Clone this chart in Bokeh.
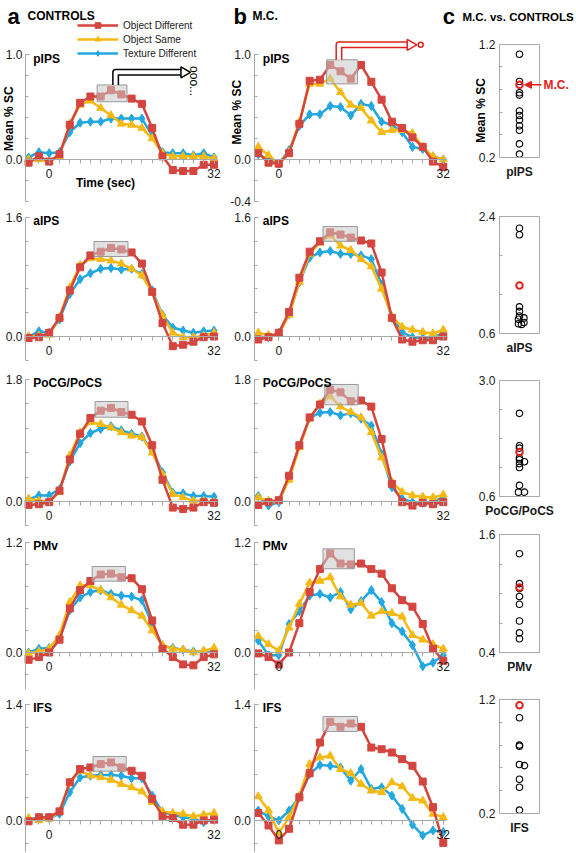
import math
from bokeh.plotting import figure
from bokeh.models import (LinearAxis, FixedTicker, Legend, LegendItem, Arrow,
                          NormalHead, NumeralTickFormatter)
from bokeh.layouts import row, column
from bokeh.core.properties import value
from bokeh.embed import file_html
from bokeh.resources import INLINE

FONT = "Liberation Sans"
RED = "#d4453f"
YEL = "#f5b914"
BLU = "#23a7df"
AXC = "#a8a8a8"
MCRED = "#e0201c"

# ---------------- data ----------------
time_sec = [-4, -2, 0, 2, 4, 6, 8, 10, 12, 14, 16, 18, 20, 22, 24, 26, 28, 30, 32]
regions = ["pIPS", "aIPS", "PoCG/PoCS", "PMv", "IFS"]
y_max = [1.0, 1.6, 1.8, 1.2, 1.4]
series_names = ["Object Different", "Object Same", "Texture Different"]

# a: CONTROLS
ctl_pips_od = [-0.03, 0.03, -0.02, 0.05, 0.33, 0.54, 0.60, 0.60, 0.66, 0.62, 0.58, 0.53, 0.30, 0.03, -0.10, -0.11, -0.11, -0.05, -0.05]
ctl_pips_os = [0.00, 0.00, -0.02, 0.03, 0.34, 0.52, 0.56, 0.49, 0.42, 0.34, 0.33, 0.30, 0.20, 0.06, 0.03, 0.03, 0.03, 0.03, 0.01]
ctl_pips_td = [0.02, 0.07, 0.06, 0.07, 0.26, 0.35, 0.36, 0.36, 0.39, 0.39, 0.39, 0.39, 0.23, 0.07, 0.06, 0.06, 0.04, 0.06, 0.02]

ctl_aips_od = [-0.02, -0.01, 0.05, 0.25, 0.62, 0.93, 1.09, 1.14, 1.19, 1.17, 1.13, 0.98, 0.60, 0.18, -0.13, -0.11, -0.07, -0.01, 0.00]
ctl_aips_os = [0.00, 0.01, 0.02, 0.26, 0.66, 0.96, 1.05, 1.04, 1.02, 0.98, 0.91, 0.82, 0.59, 0.28, 0.05, -0.01, -0.01, 0.01, 0.05]
ctl_aips_td = [0.00, 0.07, 0.05, 0.23, 0.57, 0.77, 0.85, 0.91, 0.92, 0.90, 0.91, 0.84, 0.62, 0.29, 0.12, 0.08, 0.05, 0.07, 0.08]

ctl_pocg_od = [-0.05, -0.04, -0.01, 0.16, 0.62, 1.00, 1.23, 1.34, 1.38, 1.32, 1.28, 1.18, 0.83, 0.32, -0.09, -0.11, -0.09, -0.01, -0.02]
ctl_pocg_os = [0.04, 0.01, 0.00, 0.14, 0.68, 1.02, 1.17, 1.14, 1.09, 1.02, 0.97, 0.95, 0.72, 0.40, 0.11, 0.06, 0.01, 0.01, -0.01]
ctl_pocg_td = [0.03, 0.09, 0.09, 0.18, 0.59, 0.86, 1.01, 1.07, 1.11, 1.05, 1.00, 0.96, 0.75, 0.43, 0.13, 0.12, 0.08, 0.08, 0.07]

ctl_pmv_od = [-0.08, -0.05, 0.00, 0.14, 0.48, 0.68, 0.78, 0.85, 0.86, 0.82, 0.81, 0.69, 0.35, 0.04, -0.05, -0.13, -0.14, -0.05, -0.02]
ctl_pmv_os = [-0.01, 0.01, 0.04, 0.19, 0.55, 0.73, 0.73, 0.68, 0.60, 0.52, 0.46, 0.40, 0.24, 0.08, 0.04, 0.03, 0.00, 0.02, 0.05]
ctl_pmv_td = [0.00, 0.04, 0.05, 0.15, 0.46, 0.60, 0.66, 0.68, 0.64, 0.62, 0.61, 0.57, 0.31, 0.07, 0.05, 0.03, 0.01, 0.01, 0.00]

ctl_ifs_od = [-0.01, 0.04, 0.04, 0.11, 0.46, 0.62, 0.64, 0.68, 0.70, 0.64, 0.60, 0.54, 0.26, 0.05, 0.03, -0.05, -0.05, 0.00, 0.01]
ctl_ifs_os = [0.03, 0.00, 0.02, 0.11, 0.46, 0.60, 0.54, 0.52, 0.49, 0.44, 0.40, 0.35, 0.22, 0.11, 0.09, 0.08, 0.05, 0.07, 0.09]
ctl_ifs_td = [0.02, 0.03, 0.03, 0.08, 0.34, 0.52, 0.54, 0.55, 0.55, 0.54, 0.51, 0.51, 0.30, 0.10, 0.07, 0.04, 0.02, -0.02, 0.01]

# b: M.C.
mc_pips_od = [0.06, -0.03, -0.04, 0.06, 0.34, 0.75, 0.76, 0.90, 0.84, 0.77, 0.90, 0.74, 0.57, 0.36, 0.30, 0.21, 0.12, -0.02, -0.07]
mc_pips_os = [0.12, 0.04, -0.04, 0.07, 0.36, 0.72, 0.72, 0.77, 0.64, 0.52, 0.49, 0.37, 0.26, 0.28, 0.28, 0.25, 0.12, 0.03, 0.00]
mc_pips_td = [0.05, 0.00, -0.04, 0.09, 0.32, 0.43, 0.43, 0.51, 0.50, 0.42, 0.53, 0.51, 0.36, 0.33, 0.26, 0.12, 0.10, 0.03, 0.00]

mc_aips_od = [-0.04, -0.01, 0.05, 0.33, 0.79, 1.14, 1.28, 1.40, 1.37, 1.33, 1.29, 1.25, 0.86, 0.25, -0.04, -0.07, -0.05, -0.05, 0.00]
mc_aips_os = [0.05, 0.02, 0.03, 0.29, 0.73, 1.11, 1.26, 1.36, 1.22, 1.16, 1.04, 0.94, 0.64, 0.27, 0.13, 0.09, 0.06, 0.04, 0.09]
mc_aips_td = [-0.01, -0.01, 0.05, 0.30, 0.73, 1.06, 1.13, 1.15, 1.11, 1.11, 1.09, 1.04, 0.70, 0.25, 0.06, -0.01, -0.02, -0.01, 0.04]

mc_pocg_od = [-0.05, -0.01, 0.02, 0.38, 0.83, 1.24, 1.43, 1.65, 1.61, 1.48, 1.49, 1.40, 0.92, 0.26, -0.01, -0.06, -0.02, -0.04, -0.01]
mc_pocg_os = [0.06, 0.01, 0.01, 0.32, 0.80, 1.22, 1.44, 1.55, 1.40, 1.32, 1.24, 1.02, 0.65, 0.29, 0.14, 0.09, 0.07, 0.06, 0.10]
mc_pocg_td = [0.08, -0.06, -0.01, 0.35, 0.82, 1.23, 1.31, 1.32, 1.27, 1.30, 1.22, 1.12, 0.70, 0.21, 0.04, -0.01, -0.02, -0.01, 0.07]

mc_pmv_od = [-0.01, -0.05, -0.13, 0.00, 0.32, 0.66, 0.91, 1.08, 0.97, 0.96, 0.97, 0.91, 0.86, 0.70, 0.57, 0.50, 0.31, 0.04, -0.09]
mc_pmv_os = [0.18, 0.09, 0.02, 0.27, 0.53, 0.76, 0.78, 0.82, 0.61, 0.52, 0.54, 0.40, 0.45, 0.43, 0.39, 0.19, 0.14, 0.09, 0.04]
mc_pmv_td = [0.13, -0.03, -0.03, 0.31, 0.45, 0.62, 0.64, 0.60, 0.66, 0.47, 0.56, 0.68, 0.55, 0.32, 0.23, 0.08, -0.15, -0.11, -0.03]

mc_ifs_od = [0.09, -0.06, -0.24, -0.10, 0.28, 0.57, 0.94, 1.19, 1.13, 1.17, 1.13, 0.88, 0.86, 0.82, 0.74, 0.66, 0.47, 0.16, -0.27]
mc_ifs_os = [0.29, 0.12, -0.15, 0.04, 0.30, 0.68, 0.76, 0.78, 0.62, 0.57, 0.44, 0.36, 0.34, 0.46, 0.41, 0.27, 0.24, 0.08, 0.04]
mc_ifs_td = [0.12, 0.05, 0.00, 0.12, 0.28, 0.56, 0.67, 0.66, 0.64, 0.48, 0.62, 0.38, 0.40, 0.30, 0.14, -0.05, -0.18, -0.12, -0.14]

# c: M.C. vs. CONTROLS (mean % SC over the highlighted window)
cmp_pips_controls = [1.11, 0.87, 0.77, 0.75, 0.61, 0.57, 0.53, 0.48, 0.44, 0.32, 0.23]
cmp_aips_controls = [2.22, 2.12, 1.01, 0.94, 0.87, 0.84, 0.82, 0.77, 0.75, 0.74]
cmp_pocg_controls = [2.32, 1.65, 1.60, 1.40, 1.36, 1.32, 1.28, 1.20, 0.83, 0.69, 0.69]
cmp_pmv_controls = [1.405, 1.10, 1.05, 0.97, 0.89, 0.72, 0.60, 0.54]
cmp_ifs_controls = [1.04, 0.80, 0.79, 0.63, 0.62, 0.50, 0.43, 0.23]
cmp_mc = [0.84, 1.34, 1.52, 1.06, 1.15]
c_axis_top = [1.2, 2.4, 3.0, 1.6, 1.2]
c_axis_bot = [0.2, 0.6, 0.6, 0.4, 0.2]

# ---------------- layout / styling (not data) ----------------
controls = [(ctl_pips_od, ctl_pips_os, ctl_pips_td), (ctl_aips_od, ctl_aips_os, ctl_aips_td),
            (ctl_pocg_od, ctl_pocg_os, ctl_pocg_td), (ctl_pmv_od, ctl_pmv_os, ctl_pmv_td),
            (ctl_ifs_od, ctl_ifs_os, ctl_ifs_td)]
mc = [(mc_pips_od, mc_pips_os, mc_pips_td), (mc_aips_od, mc_aips_os, mc_aips_td),
      (mc_pocg_od, mc_pocg_os, mc_pocg_td), (mc_pmv_od, mc_pmv_os, mc_pmv_td),
      (mc_ifs_od, mc_ifs_os, mc_ifs_td)]
cmp_controls = [cmp_pips_controls, cmp_aips_controls, cmp_pocg_controls, cmp_pmv_controls, cmp_ifs_controls]
cmp_jitter = [[0] * 11,
              [0, 0, 0, 0, 0, 0.22, -0.05, 0.22, -0.05, 0.1],
              [0, 0, 0, 0, 0, 0.25, 0, 0, 0, -0.05, 0.25],
              [0] * 8,
              [0, 0, 0, 0, 0.25, 0, 0, 0]]

ROW_REF = [0, 208, 368, 532, 695, 852]
ZERO_REF = [159, 336, 501, 652, 820]
PPU_REF = [105, 74.4, 67.8, 91.7, 82.9]
Y_LO = [-0.4, -0.32, -0.36, -0.4, -0.4]
COLS = {
    "a": dict(ref0=0, ref1=224, t0=48.7, ppx=5.15, yaxis_ref=25),
    "b": dict(ref0=224, ref1=455, t0=278.3, ppx=5.14, yaxis_ref=253.5),
}
# highlighted windows (t0, t1, y0, y1)
BOXES = {
    "a": [(9.3, 15.1, 0.55, 0.71), (8.7, 15.3, 1.075, 1.277), (8.9, 15.3, 1.243, 1.475),
          (8.35, 14.8, 0.778, 0.938), (8.5, 14.95, 0.595, 0.772)],
    "b": [(9.3, 15.3, 0.72, 0.95), (8.6, 15.3, 1.28, 1.478), (8.95, 15.45, 1.426, 1.726),
          (8.6, 14.7, 0.913, 1.131), (8.6, 15.3, 1.074, 1.254)],
}

C_ROW_REF = [0, 190, 355, 524, 680, 852]
C_STEP = [0.2, 0.6, 0.6, 0.3, 0.2]
C_TOP_REF = [43.5, 216, 380, 534, 699]
C_BOT_REF = [157, 333, 496, 652, 813]
C_REF0, C_REF1, C_CENTER, C_PPX = 455, 575, 519, 20


def txt(p, x, y, s, size="12px", bold=True, color="black", align="left",
        baseline="middle", angle=0.0):
    p.text(x=[x], y=[y], text=[s], text_font=value(FONT), text_font_size=size,
           text_font_style="bold" if bold else "normal", text_color=color,
           text_align=align, text_baseline=baseline, angle=angle)


def style_axis(ax, size="12px"):
    ax.axis_line_color = AXC
    ax.major_tick_line_color = AXC
    ax.minor_tick_line_color = AXC
    ax.major_label_text_font = FONT
    ax.major_label_text_font_size = size
    ax.major_label_text_color = "#1a1a1a"


def base_fig(w, h, xr, yr):
    p = figure(width=w, height=h, x_range=xr, y_range=yr, min_border=0,
               toolbar_location=None, output_backend="svg",
               x_axis_location=None, y_axis_location=None, outline_line_color=None)
    p.grid.visible = False
    return p


def ts_fig(col, r):
    c = COLS[col]
    xr = ((c["ref0"] - c["t0"]) / c["ppx"], (c["ref1"] - c["t0"]) / c["ppx"])
    yaxis_x = (c["yaxis_ref"] - c["t0"]) / c["ppx"]
    ppu, zero = PPU_REF[r], ZERO_REF[r]
    yr = ((zero - ROW_REF[r + 1]) / ppu, (zero - ROW_REF[r]) / ppu)
    p = base_fig(c["ref1"] - c["ref0"], ROW_REF[r + 1] - ROW_REF[r], xr, yr)
    top, lo = y_max[r], Y_LO[r]
    step = top / 5
    minors = [k * step for k in range(-3, 6) if k * step >= lo - 1e-9]
    majors = [0, top] + ([lo] if (col == "b" and r == 0) else [])
    yax = LinearAxis(fixed_location=yaxis_x, bounds=(lo, top),
                     ticker=FixedTicker(ticks=majors, minor_ticks=minors),
                     formatter=NumeralTickFormatter(format="0.0"))
    style_axis(yax)
    yax.major_tick_in, yax.major_tick_out = 4, 0
    yax.minor_tick_in, yax.minor_tick_out = 3, 0
    yax.major_label_standoff = 3
    p.add_layout(yax, "left")
    xax = LinearAxis(fixed_location=0, bounds=(yaxis_x, 32.6),
                     ticker=FixedTicker(ticks=[0, 32], minor_ticks=time_sec[1:]))
    style_axis(xax)
    xax.major_tick_in, xax.major_tick_out = 0, 4
    xax.minor_tick_in, xax.minor_tick_out = 0, 4
    xax.major_label_standoff = 5
    p.add_layout(xax, "below")

    od, os_, td = (controls if col == "a" else mc)[r]
    rends = []
    for ys, color, marker, size in [(td, BLU, "diamond", 9), (os_, YEL, "triangle", 8), (od, RED, "square", 7)]:
        ln = p.line(time_sec, ys, line_color=color, line_width=2.5)
        pt = p.scatter(time_sec, ys, marker=marker, size=size, fill_color=color, line_color=color)
        rends.append((ln, pt))
    b = BOXES[col][r]
    p.quad(left=[b[0]], right=[b[1]], bottom=[b[2]], top=[b[3]], fill_color="#c8c8c8",
           fill_alpha=0.55, line_color="#999999", line_width=1)
    txt(p, -3.1, top - 4 / ppu, regions[r])

    if r == 0:
        if col == "a":
            txt(p, -8.1, 1.362, "a", size="22px", baseline="alphabetic")
            txt(p, -4.21, 1.362, "CONTROLS", baseline="alphabetic")
            txt(p, -7.71, 0.39, "Mean % SC", align="center", angle=math.pi / 2)
            txt(p, 10.93, -0.22, "Time (sec)", align="center")
            # outlined arrow to column c
            p.line([12.9, 12.9, 25.8], [b[3], 0.83, 0.83], line_color="black", line_width=7, line_join="round")
            p.line([12.9, 12.9, 25.8], [b[3], 0.83, 0.83], line_color="white", line_width=4, line_join="round")
            p.scatter([26.2], [0.83], marker="triangle", angle=-math.pi / 2, size=11,
                      fill_color="white", line_color="black", line_width=1.5)
            txt(p, 28.1, 0.89, "ooo...", bold=False, angle=-math.pi / 2)
            legend = Legend(items=[LegendItem(label=series_names[0], renderers=list(rends[2])),
                                   LegendItem(label=series_names[1], renderers=list(rends[1])),
                                   LegendItem(label=series_names[2], renderers=list(rends[0]))],
                            location=(77, 148), glyph_width=41, glyph_height=14, label_height=14,
                            spacing=0, padding=0, margin=0, border_line_color=None,
                            background_fill_alpha=0, label_text_font=FONT,
                            label_text_font_size="10px", label_text_color="#1a1a1a",
                            label_standoff=5)
            p.add_layout(legend)
        else:
            txt(p, -8.81, 1.362, "b", size="22px", baseline="alphabetic")
            txt(p, -5.12, 1.362, "M.C.", baseline="alphabetic")
            txt(p, 31.9, 1.362, "c", size="22px", baseline="alphabetic")
            txt(p, -8.09, 0.45, "Mean % SC", align="center", angle=math.pi / 2)
            p.line([11.7, 11.7, 25.2], [b[3], 1.092, 1.092], line_color=MCRED, line_width=7, line_join="round")
            p.line([11.7, 11.7, 25.2], [b[3], 1.092, 1.092], line_color="white", line_width=4, line_join="round")
            p.scatter([25.6], [1.092], marker="triangle", angle=-math.pi / 2, size=11,
                      fill_color="white", line_color=MCRED, line_width=1.5)
            p.scatter([27.6], [1.092], marker="circle", size=5, fill_color=None,
                      line_color=MCRED, line_width=1.5)
    return p


def cmp_fig(r):
    top, bot = c_axis_top[r], c_axis_bot[r]
    ppu = (C_BOT_REF[r] - C_TOP_REF[r]) / (top - bot)
    zero = C_BOT_REF[r] + bot * ppu
    yr = ((zero - C_ROW_REF[r + 1]) / ppu, (zero - C_ROW_REF[r]) / ppu)
    xr = ((C_REF0 - C_CENTER) / C_PPX, (C_REF1 - C_CENTER) / C_PPX)
    p = base_fig(C_REF1 - C_REF0, C_ROW_REF[r + 1] - C_ROW_REF[r], xr, yr)
    n = int(round((top - bot) / C_STEP[r]))
    minors = [bot + k * C_STEP[r] for k in range(n + 1)]
    yax = LinearAxis(fixed_location=-1, bounds=(bot, top),
                     ticker=FixedTicker(ticks=[bot, top], minor_ticks=minors),
                     formatter=NumeralTickFormatter(format="0.0"))
    style_axis(yax)
    yax.major_tick_in, yax.major_tick_out = 3, 0
    yax.minor_tick_in, yax.minor_tick_out = 3, 0
    yax.major_label_standoff = 4
    p.add_layout(yax, "left")
    rax = LinearAxis(fixed_location=1, bounds=(bot, top), ticker=FixedTicker(ticks=[]))
    style_axis(rax)
    p.add_layout(rax, "right")
    tax = LinearAxis(fixed_location=top, bounds=(-1, 1), ticker=FixedTicker(ticks=[]))
    style_axis(tax)
    p.add_layout(tax, "above")
    bax = LinearAxis(fixed_location=bot, bounds=(-1, 1), ticker=FixedTicker(ticks=[0]),
                     major_label_overrides={0: regions[r]})
    style_axis(bax)
    bax.major_tick_in, bax.major_tick_out = 0, 0
    bax.major_label_text_font_style = "bold"
    bax.major_label_standoff = 7
    p.add_layout(bax, "below")

    vals = cmp_controls[r]
    p.scatter(cmp_jitter[r], vals, marker="circle", size=6.5, fill_color=None,
              line_color="black", line_width=1.1)
    p.scatter([0], [cmp_mc[r]], marker="circle", size=6.5, fill_color=None,
              line_color=MCRED, line_width=2)
    if r == 0:
        txt(p, (462 - C_CENTER) / C_PPX, (zero - 16) / ppu, "M.C. vs. CONTROLS",
            size="11.5px", baseline="alphabetic")
        txt(p, -1.95, (zero - 110) / ppu, "Mean % SC", align="center", angle=math.pi / 2)
        p.add_layout(Arrow(x_start=1.1, y_start=cmp_mc[0], x_end=0.25, y_end=cmp_mc[0],
                           line_color=MCRED, line_width=1.5,
                           end=NormalHead(size=7, fill_color=MCRED, line_color=MCRED)))
        txt(p, 1.2, cmp_mc[0], "M.C.", color=MCRED)
    return p


col_a = column(*[ts_fig("a", r) for r in range(5)])
col_b = column(*[ts_fig("b", r) for r in range(5)])
col_c = column(*[cmp_fig(r) for r in range(5)])
layout = row(col_a, col_b, col_c)

open("out.html", "w").write(file_html(layout, INLINE))
